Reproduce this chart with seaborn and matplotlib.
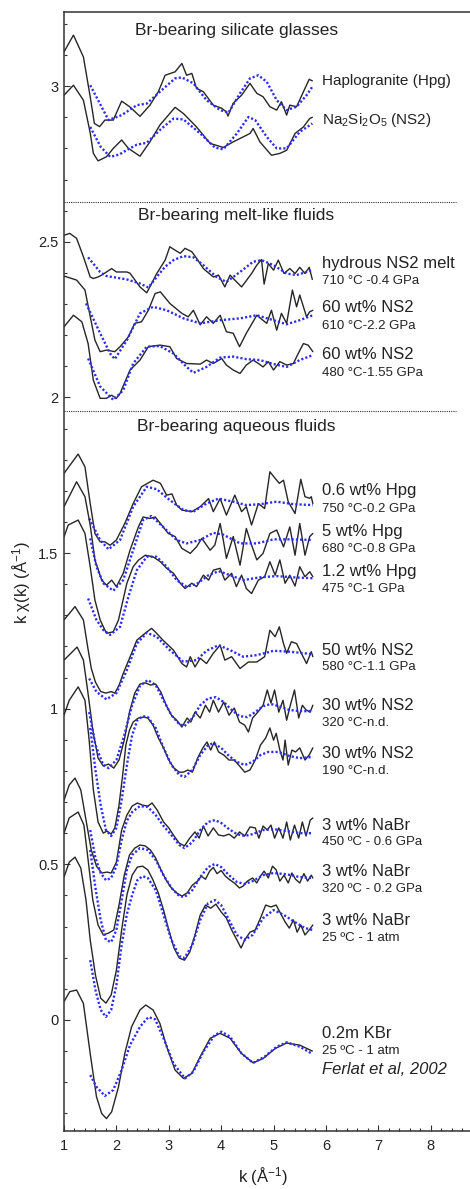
import matplotlib
matplotlib.use('Agg')
import matplotlib.pyplot as plt
import seaborn as sns
import numpy as np
from matplotlib.ticker import MultipleLocator

# ---- silicate glasses ----
hpg_glass_k = [1.0, 1.18, 1.37, 1.5, 1.58, 1.68, 1.78, 1.94, 2.10, 2.26, 2.45, 2.64, 2.80, 2.93, 3.12, 3.25, 3.34,
               3.44, 3.53, 3.66, 3.85, 4.01, 4.10, 4.13, 4.23, 4.39, 4.55, 4.68, 4.80, 4.93, 5.06, 5.15, 5.25,
               5.31, 5.44, 5.57, 5.68, 5.74]
hpg_glass_y = [3.110, 3.164, 3.094, 2.966, 2.880, 2.870, 2.891, 2.891, 2.952, 2.933, 2.903, 2.939, 2.982, 3.035,
               3.046, 3.073, 3.035, 3.041, 2.993, 2.982, 2.939, 2.929, 2.917, 2.904, 2.945, 2.971, 3.009, 2.977,
               2.966, 2.934, 2.923, 2.950, 2.907, 2.939, 2.934, 2.982, 3.022, 3.017]
hpg_glass_fit_k = [1.5, 1.85, 2.10, 2.39, 2.58, 2.83, 3.12, 3.25, 3.47, 3.72, 3.98, 4.14, 4.36, 4.55, 4.71, 4.87,
                   5.06, 5.25, 5.44, 5.63, 5.74]
hpg_glass_fit_y = [3.003, 2.891, 2.907, 2.939, 2.944, 2.982, 3.025, 3.028, 3.009, 2.955, 2.923, 2.915, 2.977,
                   3.025, 3.035, 3.014, 2.955, 2.923, 2.934, 2.971, 2.998]

ns2_glass_k = [1.0, 1.18, 1.37, 1.5, 1.56, 1.65, 1.81, 1.94, 2.10, 2.23, 2.45, 2.64, 2.83, 3.12, 3.28, 3.53, 3.79,
               4.04, 4.23, 4.42, 4.55, 4.61, 4.74, 4.96, 5.12, 5.25, 5.41, 5.57, 5.69, 5.74]
ns2_glass_y = [2.971, 3.003, 2.955, 2.850, 2.784, 2.760, 2.773, 2.800, 2.827, 2.800, 2.775, 2.821, 2.875, 2.932,
               2.912, 2.869, 2.816, 2.803, 2.821, 2.837, 2.848, 2.864, 2.821, 2.778, 2.784, 2.794, 2.848, 2.869,
               2.896, 2.900]
ns2_glass_fit_k = [1.5, 1.7, 1.88, 2.05, 2.20, 2.39, 2.58, 2.83, 3.09, 3.28, 3.60, 3.88, 4.04, 4.30, 4.52, 4.65,
                   4.87, 5.06, 5.25, 5.50, 5.74]
ns2_glass_fit_y = [2.869, 2.805, 2.773, 2.780, 2.795, 2.812, 2.818, 2.859, 2.896, 2.893, 2.848, 2.803, 2.797,
                   2.848, 2.901, 2.891, 2.837, 2.800, 2.800, 2.853, 2.880]

# ---- melt-like fluids ----
melt_k = [1.0, 1.11, 1.24, 1.37, 1.50, 1.56, 1.65, 1.72, 1.91, 2.00, 2.20, 2.26, 2.45, 2.58, 2.77, 2.93, 3.02,
          3.12, 3.22, 3.31, 3.44, 3.53, 3.66, 3.85, 3.95, 4.07, 4.17, 4.26, 4.39, 4.58, 4.68, 4.77, 4.82, 4.90,
          5.00, 5.09, 5.20, 5.31, 5.41, 5.50, 5.60, 5.68, 5.74]
melt_y = [2.521, 2.527, 2.511, 2.452, 2.387, 2.382, 2.387, 2.393, 2.414, 2.403, 2.403, 2.399, 2.355, 2.336, 2.398,
          2.441, 2.484, 2.473, 2.463, 2.479, 2.468, 2.447, 2.414, 2.387, 2.393, 2.355, 2.393, 2.377, 2.355, 2.398,
          2.425, 2.443, 2.364, 2.430, 2.409, 2.441, 2.398, 2.414, 2.398, 2.418, 2.398, 2.418, 2.379]
melt_fit_k = [1.46, 1.69, 1.81, 2.20, 2.45, 2.61, 2.77, 2.93, 3.09, 3.28, 3.47, 3.66, 3.91, 4.10, 4.36, 4.61,
              4.77, 5.00, 5.25, 5.44, 5.74]
melt_fit_y = [2.450, 2.403, 2.390, 2.379, 2.366, 2.353, 2.387, 2.420, 2.441, 2.454, 2.450, 2.425, 2.387, 2.371,
              2.403, 2.436, 2.441, 2.425, 2.398, 2.393, 2.409]

ns2_610_k = [1.0, 1.24, 1.40, 1.59, 1.69, 1.81, 1.97, 2.07, 2.23, 2.35, 2.48, 2.61, 2.74, 2.84, 3.02, 3.25, 3.37,
             3.47, 3.60, 3.72, 3.85, 3.98, 4.10, 4.23, 4.35, 4.48, 4.68, 4.87, 4.96, 5.06, 5.15, 5.25, 5.36,
             5.44, 5.50, 5.63, 5.69, 5.75]
ns2_610_y = [2.390, 2.377, 2.345, 2.184, 2.147, 2.152, 2.147, 2.163, 2.195, 2.238, 2.243, 2.280, 2.334, 2.339,
             2.302, 2.270, 2.259, 2.280, 2.233, 2.259, 2.238, 2.264, 2.211, 2.206, 2.163, 2.206, 2.264, 2.238,
             2.280, 2.216, 2.270, 2.238, 2.345, 2.291, 2.329, 2.259, 2.275, 2.280]
ns2_610_fit_k = [1.42, 1.69, 1.88, 1.97, 2.20, 2.45, 2.70, 2.96, 3.28, 3.60, 3.98, 4.36, 4.68, 5.00, 5.25, 5.50,
                 5.75]
ns2_610_fit_y = [2.302, 2.206, 2.141, 2.123, 2.184, 2.270, 2.291, 2.280, 2.254, 2.238, 2.248, 2.254, 2.264, 2.248,
                 2.235, 2.248, 2.264]

ns2_480_k = [1.0, 1.18, 1.34, 1.46, 1.56, 1.69, 1.81, 1.91, 2.00, 2.07, 2.26, 2.45, 2.61, 2.83, 3.02, 3.15, 3.34,
             3.60, 3.72, 3.85, 4.01, 4.10, 4.23, 4.36, 4.48, 4.61, 4.71, 4.80, 4.90, 5.00, 5.12, 5.25, 5.38,
             5.47, 5.57, 5.66, 5.75]
ns2_480_y = [2.227, 2.264, 2.243, 2.173, 2.055, 1.997, 1.997, 2.007, 1.997, 2.013, 2.088, 2.120, 2.163, 2.168,
             2.163, 2.125, 2.109, 2.107, 2.120, 2.109, 2.125, 2.104, 2.088, 2.077, 2.104, 2.120, 2.109, 2.098,
             2.115, 2.088, 2.115, 2.104, 2.109, 2.141, 2.173, 2.168, 2.147]
ns2_480_fit_k = [1.46, 1.69, 1.94, 2.13, 2.32, 2.58, 2.83, 3.09, 3.34, 3.47, 3.72, 3.98, 4.23, 4.48, 4.74, 5.00,
                 5.25, 5.50, 5.75]
ns2_480_fit_y = [2.125, 2.035, 1.992, 2.023, 2.109, 2.163, 2.165, 2.141, 2.098, 2.079, 2.098, 2.128, 2.131, 2.123,
                 2.120, 2.107, 2.098, 2.120, 2.136]

# ---- aqueous fluids ----
hpg06_k = [1.0, 1.27, 1.40, 1.50, 1.59, 1.69, 1.78, 1.88, 2.00, 2.16, 2.32, 2.48, 2.70, 2.84, 2.96, 3.06, 3.15,
           3.25, 3.44, 3.60, 3.76, 3.85, 3.98, 4.10, 4.26, 4.39, 4.48, 4.58, 4.71, 4.83, 4.93, 5.03, 5.11, 5.19,
           5.28, 5.41, 5.52, 5.60, 5.69, 5.72, 5.75]
hpg06_y = [1.756, 1.818, 1.777, 1.659, 1.563, 1.536, 1.536, 1.525, 1.542, 1.595, 1.659, 1.713, 1.734, 1.724, 1.686,
           1.690, 1.654, 1.638, 1.633, 1.649, 1.675, 1.633, 1.675, 1.622, 1.686, 1.633, 1.649, 1.590, 1.659, 1.643,
           1.761, 1.740, 1.724, 1.734, 1.665, 1.627, 1.737, 1.681, 1.676, 1.681, 1.659]
hpg06_fit_k = [1.48, 1.69, 1.85, 2.07, 2.32, 2.58, 2.77, 3.02, 3.28, 3.47, 3.72, 3.95, 4.23, 4.48, 4.74, 5.06,
               5.38, 5.75]
hpg06_fit_y = [1.611, 1.542, 1.512, 1.542, 1.649, 1.713, 1.705, 1.670, 1.638, 1.633, 1.659, 1.675, 1.665, 1.654,
               1.657, 1.665, 1.657, 1.654]

hpg5_k = [1.0, 1.24, 1.40, 1.50, 1.59, 1.72, 1.81, 1.91, 2.00, 2.13, 2.26, 2.42, 2.51, 2.64, 2.74, 2.84, 2.99,
          3.12, 3.25, 3.41, 3.53, 3.63, 3.79, 3.88, 3.98, 4.04, 4.10, 4.23, 4.36, 4.48, 4.58, 4.68, 4.80, 4.93,
          5.06, 5.19, 5.31, 5.41, 5.50, 5.60, 5.69, 5.75]
hpg5_y = [1.649, 1.729, 1.681, 1.590, 1.478, 1.413, 1.397, 1.413, 1.392, 1.435, 1.509, 1.584, 1.616, 1.611, 1.616,
          1.595, 1.563, 1.553, 1.515, 1.499, 1.520, 1.547, 1.509, 1.526, 1.595, 1.542, 1.483, 1.553, 1.461, 1.579,
          1.526, 1.478, 1.499, 1.563, 1.574, 1.520, 1.584, 1.493, 1.595, 1.493, 1.553, 1.563]
hpg5_fit_k = [1.50, 1.62, 1.75, 1.94, 2.13, 2.32, 2.51, 2.67, 2.89, 3.15, 3.34, 3.60, 3.85, 4.04, 4.36, 4.68, 5.00,
              5.31, 5.75]
hpg5_fit_y = [1.547, 1.456, 1.403, 1.379, 1.413, 1.509, 1.606, 1.619, 1.584, 1.542, 1.531, 1.542, 1.565, 1.559,
              1.531, 1.531, 1.544, 1.544, 1.542]

hpg12_k = [1.0, 1.08, 1.27, 1.40, 1.50, 1.59, 1.69, 1.81, 1.94, 2.04, 2.20, 2.32, 2.42, 2.55, 2.70, 2.84, 2.96,
           3.09, 3.22, 3.31, 3.44, 3.53, 3.66, 3.76, 3.85, 3.98, 4.07, 4.20, 4.29, 4.39, 4.48, 4.58, 4.71, 4.83,
           4.93, 5.03, 5.12, 5.22, 5.31, 5.41, 5.50, 5.60, 5.69, 5.75]
hpg12_y = [1.552, 1.590, 1.606, 1.563, 1.456, 1.349, 1.285, 1.242, 1.247, 1.285, 1.403, 1.456, 1.477, 1.493, 1.488,
           1.472, 1.451, 1.435, 1.403, 1.386, 1.403, 1.392, 1.429, 1.413, 1.445, 1.451, 1.413, 1.435, 1.392, 1.429,
           1.386, 1.370, 1.413, 1.424, 1.472, 1.429, 1.478, 1.403, 1.429, 1.394, 1.456, 1.424, 1.440, 1.424]
hpg12_fit_k = [1.46, 1.62, 1.75, 1.88, 2.07, 2.23, 2.39, 2.58, 2.77, 2.96, 3.15, 3.34, 3.53, 3.76, 3.95, 4.17,
               4.42, 4.74, 5.06, 5.38, 5.75]
hpg12_fit_y = [1.354, 1.285, 1.253, 1.237, 1.263, 1.360, 1.445, 1.488, 1.488, 1.456, 1.413, 1.392, 1.400, 1.429,
               1.442, 1.429, 1.413, 1.422, 1.426, 1.422, 1.419]

ns2_50_k = [1.0, 1.21, 1.37, 1.45, 1.52, 1.60, 1.70, 1.80, 1.90, 1.97, 2.05, 2.13, 2.29, 2.39, 2.51, 2.67, 2.74,
            2.89, 3.09, 3.25, 3.34, 3.41, 3.50, 3.60, 3.72, 3.85, 3.98, 4.07, 4.20, 4.36, 4.52, 4.68, 4.83, 4.93,
            5.03, 5.11, 5.19, 5.25, 5.34, 5.44, 5.53, 5.63, 5.72, 5.75]
ns2_50_y = [1.285, 1.328, 1.285, 1.200, 1.130, 1.085, 1.055, 1.050, 1.055, 1.050, 1.075, 1.113, 1.178, 1.220,
            1.237, 1.258, 1.247, 1.220, 1.188, 1.145, 1.134, 1.167, 1.134, 1.162, 1.145, 1.178, 1.204, 1.156,
            1.167, 1.129, 1.150, 1.150, 1.167, 1.252, 1.231, 1.263, 1.209, 1.178, 1.215, 1.209, 1.178, 1.145,
            1.183, 1.167]
ns2_50_fit_k = [1.48, 1.62, 1.81, 2.00, 2.20, 2.39, 2.58, 2.77, 3.02, 3.28, 3.53, 3.72, 3.95, 4.17, 4.42, 4.68,
                5.00, 5.31, 5.75]
ns2_50_fit_y = [1.097, 1.054, 1.030, 1.050, 1.124, 1.209, 1.244, 1.231, 1.188, 1.151, 1.156, 1.186, 1.204, 1.188,
                1.167, 1.172, 1.186, 1.183, 1.175]

ns2_30a_k = [1.0, 1.25, 1.37, 1.45, 1.55, 1.65, 1.75, 1.85, 1.95, 2.05, 2.15, 2.25, 2.35, 2.45, 2.55, 2.65, 2.75,
             2.85, 2.95, 3.05, 3.15, 3.25, 3.35, 3.42, 3.50, 3.60, 3.70, 3.78, 3.85, 3.95, 4.05, 4.15, 4.25, 4.35,
             4.45, 4.52, 4.60, 4.70, 4.80, 4.88, 4.95, 5.02, 5.10, 5.18, 5.25, 5.32, 5.40, 5.48, 5.55, 5.62, 5.70,
             5.75]
ns2_30a_y = [1.156, 1.198, 1.156, 1.060, 0.931, 0.841, 0.816, 0.822, 0.809, 0.835, 0.899, 0.989, 1.050, 1.079,
             1.083, 1.076, 1.079, 1.053, 1.011, 0.979, 0.963, 0.941, 0.970, 0.957, 0.989, 0.970, 1.011, 0.989,
             1.027, 0.989, 1.021, 0.979, 1.002, 0.957, 0.947, 0.925, 0.970, 0.989, 1.011, 1.060, 1.018, 1.060,
             0.989, 1.027, 0.963, 1.011, 1.060, 0.970, 1.011, 0.996, 0.989, 1.011]
ns2_30a_fit_k = [1.48, 1.60, 1.75, 1.85, 2.00, 2.15, 2.30, 2.45, 2.60, 2.75, 2.90, 3.05, 3.20, 3.30, 3.45, 3.60,
                 3.75, 3.90, 4.05, 4.20, 4.35, 4.50, 4.65, 4.80, 4.95, 5.10, 5.30, 5.50, 5.75]
ns2_30a_fit_y = [0.989, 0.883, 0.819, 0.809, 0.835, 0.915, 1.011, 1.073, 1.092, 1.076, 1.027, 0.979, 0.950, 0.944,
                 0.970, 1.011, 1.033, 1.037, 1.021, 0.996, 0.976, 0.973, 0.989, 1.008, 1.015, 1.008, 0.996, 0.992,
                 0.992]

ns2_30b_k = [1.0, 1.10, 1.27, 1.40, 1.48, 1.56, 1.65, 1.75, 1.82, 1.90, 1.97, 2.05, 2.12, 2.18, 2.25, 2.32, 2.42,
             2.52, 2.60, 2.70, 2.80, 2.90, 3.00, 3.10, 3.20, 3.28, 3.36, 3.45, 3.55, 3.65, 3.73, 3.80, 3.87, 3.95,
             4.05, 4.15, 4.25, 4.35, 4.45, 4.55, 4.65, 4.75, 4.85, 4.93, 5.00, 5.05, 5.12, 5.18, 5.22, 5.28, 5.35,
             5.42, 5.50, 5.60, 5.68, 5.75]
ns2_30b_y = [0.979, 1.027, 1.070, 1.027, 0.899, 0.739, 0.636, 0.600, 0.607, 0.597, 0.617, 0.690, 0.787, 0.883,
             0.931, 0.957, 0.970, 0.973, 0.970, 0.947, 0.906, 0.874, 0.835, 0.809, 0.796, 0.796, 0.803, 0.796,
             0.841, 0.874, 0.893, 0.867, 0.893, 0.861, 0.851, 0.835, 0.835, 0.816, 0.796, 0.803, 0.835, 0.883,
             0.906, 0.938, 0.899, 0.921, 0.867, 0.835, 0.899, 0.819, 0.867, 0.861, 0.874, 0.835, 0.851, 0.874]
ns2_30b_fit_k = [1.50, 1.60, 1.70, 1.80, 1.90, 2.00, 2.10, 2.20, 2.30, 2.40, 2.50, 2.60, 2.75, 2.90, 3.05, 3.20,
                 3.30, 3.45, 3.60, 3.75, 3.85, 4.00, 4.15, 4.30, 4.45, 4.60, 4.75, 4.90, 5.10, 5.30, 5.50, 5.75]
ns2_30b_fit_y = [0.938, 0.803, 0.690, 0.610, 0.591, 0.617, 0.706, 0.819, 0.915, 0.963, 0.976, 0.973, 0.938, 0.874,
                 0.819, 0.787, 0.781, 0.803, 0.851, 0.883, 0.889, 0.874, 0.848, 0.829, 0.819, 0.829, 0.851, 0.861,
                 0.861, 0.848, 0.841, 0.845]

nabr450_k = [1.0, 1.10, 1.21, 1.32, 1.42, 1.52, 1.62, 1.72, 1.82, 1.90, 2.00, 2.10, 2.20, 2.30, 2.40, 2.50, 2.60,
             2.68, 2.78, 2.90, 3.00, 3.10, 3.20, 3.30, 3.40, 3.50, 3.58, 3.66, 3.75, 3.85, 3.95, 4.05, 4.15, 4.25,
             4.35, 4.45, 4.55, 4.65, 4.72, 4.80, 4.88, 4.95, 5.02, 5.10, 5.18, 5.25, 5.32, 5.40, 5.48, 5.55, 5.62,
             5.70, 5.75]
nabr450_y = [0.706, 0.755, 0.777, 0.739, 0.642, 0.546, 0.494, 0.472, 0.475, 0.472, 0.507, 0.610, 0.658, 0.687,
             0.697, 0.690, 0.687, 0.697, 0.674, 0.636, 0.617, 0.591, 0.568, 0.559, 0.584, 0.604, 0.584, 0.623,
             0.591, 0.617, 0.594, 0.591, 0.597, 0.584, 0.604, 0.591, 0.620, 0.617, 0.584, 0.623, 0.610, 0.626,
             0.584, 0.617, 0.584, 0.636, 0.578, 0.626, 0.584, 0.636, 0.591, 0.642, 0.649]
nabr450_fit_k = [1.50, 1.60, 1.70, 1.80, 1.90, 2.00, 2.10, 2.20, 2.30, 2.45, 2.60, 2.75, 2.90, 3.05, 3.20, 3.30,
                 3.45, 3.60, 3.75, 3.88, 4.00, 4.15, 4.30, 4.45, 4.60, 4.80, 5.00, 5.25, 5.50, 5.75]
nabr450_fit_y = [0.610, 0.520, 0.472, 0.449, 0.456, 0.494, 0.578, 0.640, 0.668, 0.687, 0.684, 0.658, 0.623, 0.594,
                 0.562, 0.552, 0.571, 0.610, 0.636, 0.642, 0.633, 0.613, 0.597, 0.591, 0.597, 0.610, 0.613, 0.607,
                 0.600, 0.600]

nabr320_k = [1.0, 1.10, 1.27, 1.38, 1.46, 1.55, 1.65, 1.75, 1.85, 1.95, 2.05, 2.15, 2.25, 2.35, 2.45, 2.55, 2.65,
             2.75, 2.85, 2.95, 3.05, 3.15, 3.25, 3.35, 3.45, 3.55, 3.62, 3.70, 3.78, 3.85, 3.92, 4.00, 4.08, 4.15,
             4.25, 4.35, 4.42, 4.50, 4.60, 4.68, 4.75, 4.82, 4.90, 4.98, 5.05, 5.12, 5.20, 5.28, 5.35, 5.42, 5.50,
             5.58, 5.65, 5.72, 5.75]
nabr320_y = [0.600, 0.649, 0.668, 0.626, 0.514, 0.385, 0.305, 0.273, 0.279, 0.289, 0.369, 0.465, 0.530, 0.552,
             0.562, 0.559, 0.546, 0.520, 0.482, 0.449, 0.424, 0.408, 0.398, 0.408, 0.433, 0.446, 0.462, 0.452,
             0.478, 0.490, 0.470, 0.480, 0.462, 0.452, 0.440, 0.424, 0.430, 0.446, 0.456, 0.440, 0.462, 0.478,
             0.456, 0.494, 0.482, 0.446, 0.465, 0.440, 0.472, 0.452, 0.440, 0.470, 0.446, 0.465, 0.456]
nabr320_fit_k = [1.50, 1.60, 1.70, 1.80, 1.90, 2.00, 2.10, 2.20, 2.30, 2.45, 2.60, 2.75, 2.90, 3.05, 3.20, 3.30,
                 3.45, 3.60, 3.75, 3.88, 4.00, 4.15, 4.30, 4.45, 4.60, 4.80, 5.00, 5.25, 5.50, 5.75]
nabr320_fit_y = [0.546, 0.424, 0.321, 0.257, 0.250, 0.289, 0.385, 0.482, 0.530, 0.552, 0.546, 0.514, 0.465, 0.424,
                 0.398, 0.395, 0.417, 0.459, 0.491, 0.501, 0.491, 0.465, 0.443, 0.437, 0.446, 0.465, 0.472, 0.468,
                 0.459, 0.456]

nabr25_k = [1.0, 1.10, 1.21, 1.32, 1.42, 1.50, 1.60, 1.70, 1.80, 1.90, 2.00, 2.10, 2.20, 2.30, 2.40, 2.50, 2.60,
            2.70, 2.80, 2.90, 3.00, 3.10, 3.20, 3.30, 3.40, 3.50, 3.60, 3.70, 3.80, 3.90, 4.00, 4.10, 4.20, 4.30,
            4.38, 4.45, 4.55, 4.65, 4.75, 4.85, 4.95, 5.05, 5.15, 5.22, 5.30, 5.38, 5.45, 5.52, 5.60, 5.68, 5.75]
nabr25_y = [0.459, 0.507, 0.523, 0.488, 0.385, 0.257, 0.144, 0.070, 0.054, 0.080, 0.160, 0.289, 0.401, 0.465,
            0.491, 0.494, 0.482, 0.449, 0.408, 0.353, 0.289, 0.231, 0.199, 0.192, 0.218, 0.273, 0.337, 0.369,
            0.359, 0.372, 0.347, 0.327, 0.289, 0.257, 0.231, 0.257, 0.282, 0.289, 0.327, 0.369, 0.363, 0.369,
            0.337, 0.315, 0.295, 0.321, 0.282, 0.305, 0.273, 0.289, 0.305]
nabr25_fit_k = [1.50, 1.60, 1.70, 1.80, 1.90, 2.00, 2.10, 2.20, 2.30, 2.40, 2.50, 2.60, 2.75, 2.90, 3.05, 3.20,
                3.30, 3.45, 3.60, 3.75, 3.88, 4.00, 4.15, 4.30, 4.45, 4.60, 4.80, 5.00, 5.20, 5.40, 5.60, 5.75]
nabr25_fit_y = [0.192, 0.096, 0.032, 0.010, 0.032, 0.112, 0.241, 0.340, 0.401, 0.449, 0.462, 0.456, 0.417, 0.337,
                0.257, 0.205, 0.199, 0.241, 0.321, 0.375, 0.385, 0.369, 0.321, 0.273, 0.257, 0.273, 0.327, 0.353,
                0.337, 0.315, 0.295, 0.289]

kbr_k = [1.0, 1.11, 1.24, 1.37, 1.50, 1.62, 1.72, 1.81, 1.91, 2.04, 2.16, 2.29, 2.45, 2.56, 2.70, 2.83, 2.96, 3.12,
         3.28, 3.44, 3.60, 3.79, 3.98, 4.17, 4.39, 4.61, 4.80, 5.03, 5.25, 5.50, 5.74]
kbr_y = [0.059, 0.091, 0.096, 0.053, -0.108, -0.247, -0.301, -0.317, -0.295, -0.215, -0.108, -0.022, 0.032, 0.048,
         0.032, -0.011, -0.086, -0.161, -0.188, -0.172, -0.118, -0.059, -0.043, -0.059, -0.108, -0.138, -0.124,
         -0.092, -0.074, -0.081, -0.100]
kbr_fit_k = [1.50, 1.62, 1.78, 1.94, 2.10, 2.26, 2.45, 2.61, 2.74, 2.90, 3.09, 3.31, 3.47, 3.66, 3.88, 4.01, 4.17,
             4.39, 4.61, 4.83, 5.06, 5.25, 5.50, 5.74]
kbr_fit_y = [-0.177, -0.215, -0.244, -0.225, -0.161, -0.081, -0.022, 0.009, 0.002, -0.059, -0.140, -0.188, -0.166,
             -0.102, -0.048, -0.038, -0.054, -0.108, -0.138, -0.118, -0.086, -0.072, -0.086, -0.109]

spectra = [
    (hpg_glass_k, hpg_glass_y, hpg_glass_fit_k, hpg_glass_fit_y),
    (ns2_glass_k, ns2_glass_y, ns2_glass_fit_k, ns2_glass_fit_y),
    (melt_k, melt_y, melt_fit_k, melt_fit_y),
    (ns2_610_k, ns2_610_y, ns2_610_fit_k, ns2_610_fit_y),
    (ns2_480_k, ns2_480_y, ns2_480_fit_k, ns2_480_fit_y),
    (hpg06_k, hpg06_y, hpg06_fit_k, hpg06_fit_y),
    (hpg5_k, hpg5_y, hpg5_fit_k, hpg5_fit_y),
    (hpg12_k, hpg12_y, hpg12_fit_k, hpg12_fit_y),
    (ns2_50_k, ns2_50_y, ns2_50_fit_k, ns2_50_fit_y),
    (ns2_30a_k, ns2_30a_y, ns2_30a_fit_k, ns2_30a_fit_y),
    (ns2_30b_k, ns2_30b_y, ns2_30b_fit_k, ns2_30b_fit_y),
    (nabr450_k, nabr450_y, nabr450_fit_k, nabr450_fit_y),
    (nabr320_k, nabr320_y, nabr320_fit_k, nabr320_fit_y),
    (nabr25_k, nabr25_y, nabr25_fit_k, nabr25_fit_y),
    (kbr_k, kbr_y, kbr_fit_k, kbr_fit_y),
]

# sample labels: (main text, sub text), and where they sit on the y axis
sample_names = ['Haplogranite (Hpg)', 'Na$_2$Si$_2$O$_5$ (NS2)', 'hydrous NS2 melt', '60 wt% NS2', '60 wt% NS2',
                '0.6 wt% Hpg', '5 wt% Hpg', '1.2 wt% Hpg', '50 wt% NS2', '30 wt% NS2', '30 wt% NS2',
                '3 wt% NaBr', '3 wt% NaBr', '3 wt% NaBr', '0.2m KBr']
sample_conditions = [None, None, '710 °C -0.4 GPa', '610 °C-2.2 GPa', '480 °C-1.55 GPa', '750 °C-0.2 GPa',
                     '680 °C-0.8 GPa', '475 °C-1 GPa', '580 °C-1.1 GPa', '320 °C-n.d.', '190 °C-n.d.',
                     '450 ºC - 0.6 GPa', '320 ºC - 0.2 GPa', '25 ºC - 1 atm', '25 ºC - 1 atm']
name_y = [3.016, 2.891, 2.430, 2.288, 2.139, 1.700, 1.568, 1.442, 1.188, 1.009, 0.857, 0.626, 0.476, 0.318, -0.045]
cond_y = [None, None, 2.374, 2.229, 2.079, 1.643, 1.512, 1.386, 1.133, 0.953, 0.800, 0.571, 0.420, 0.262, -0.099]

section_titles = ['Br-bearing silicate glasses', 'Br-bearing melt-like fluids', 'Br-bearing aqueous fluids']
section_title_y = [3.18, 2.586, 1.905]
separator_y = [2.628, 1.956]

sns.set_style('ticks')
plt.rcParams['font.family'] = ['Liberation Sans', 'DejaVu Sans']
plt.rcParams['mathtext.fontset'] = 'custom'
plt.rcParams['mathtext.rm'] = 'Liberation Sans'
plt.rcParams['mathtext.it'] = 'Liberation Sans:italic'

fig = plt.figure(figsize=(4.7, 11.89), dpi=100)
ax = fig.add_axes([0.1362, 0.0490, 0.8638, 0.9411])

for k, y, fk, fy in spectra:
    sns.lineplot(x=k, y=y, ax=ax, color='#262626', linewidth=1.0, estimator=None)
    sns.lineplot(x=fk, y=fy, ax=ax, color='#2b2bff', linewidth=1.7, linestyle=(0, (0.9, 0.9)),
                 estimator=None)

for yy in separator_y:
    ax.plot([1.0, 8.49], [yy, yy], color='#333333', linewidth=0.8, linestyle=(0, (1, 1)))

for title, yy in zip(section_titles, section_title_y):
    ax.text(4.29, yy, title, ha='center', va='center', fontsize=12.5, color='#222222')

for i, (name, cond) in enumerate(zip(sample_names, sample_conditions)):
    fs = 11 if i < 2 else 12
    ax.text(5.93, name_y[i], name, ha='left', va='center', fontsize=fs, color='#222222')
    if cond is not None:
        ax.text(5.93, cond_y[i], cond, ha='left', va='center', fontsize=9.5, color='#222222')
ax.text(5.93, -0.158, 'Ferlat et al, 2002', ha='left', va='center', fontsize=12, style='italic',
        color='#222222')

ax.set_xlim(1, 8.75)
ax.set_ylim(-0.356, 3.239)
ax.xaxis.set_major_locator(MultipleLocator(1))
ax.xaxis.set_minor_locator(MultipleLocator(0.2))
ax.yaxis.set_major_locator(MultipleLocator(0.5))
ax.yaxis.set_minor_locator(MultipleLocator(0.1))
ax.set_yticks([0, 0.5, 1, 1.5, 2, 2.5, 3])
ax.set_yticklabels(['0', '0.5', '1', '1.5', '2', '2.5', '3'])
ax.tick_params(axis='both', which='both', direction='in', colors='#333333', labelcolor='#222222',
               labelsize=10.5, top=False, right=False)
ax.tick_params(axis='both', which='major', length=4, width=0.8)
ax.tick_params(axis='both', which='minor', length=2.5, width=0.8)
ax.tick_params(axis='x', pad=6)
ax.tick_params(axis='y', pad=4)

for side in ['left', 'bottom', 'top']:
    ax.spines[side].set_color('#333333')
    ax.spines[side].set_linewidth(1.1)
ax.spines['right'].set_visible(False)

ax.set_xlabel('k (Å$^{-1}$)', fontsize=12, color='#222222')
ax.set_ylabel('k χ(k) (Å$^{-1}$)', fontsize=12, color='#222222')
ax.xaxis.set_label_coords(0.49, -0.031)
ax.yaxis.set_label_coords(-0.076, 0.49)

fig.savefig('out.png', dpi=100)
